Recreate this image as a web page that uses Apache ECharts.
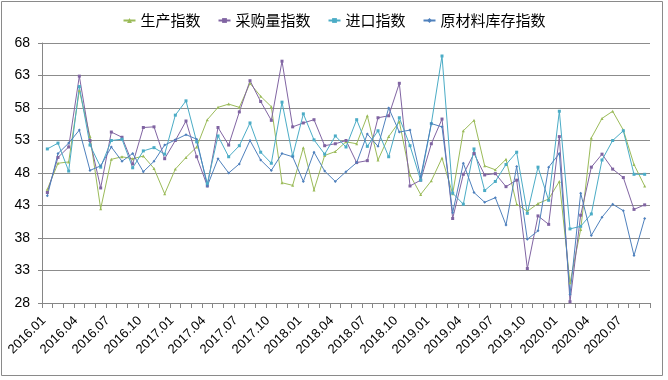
<!DOCTYPE html>
<html>
<head>
<meta charset="utf-8">
<script src="https://cdn.jsdelivr.net/npm/echarts@6/dist/echarts.min.js"></script>
<style>
html,body{margin:0;padding:0;background:#fff;}
#c{width:668px;height:380px;}
</style>
</head>
<body>
<div id="c"></div>
<script>
const categories = [
  "2016.01","2016.02","2016.03","2016.04","2016.05","2016.06","2016.07","2016.08","2016.09","2016.10","2016.11","2016.12",
  "2017.01","2017.02","2017.03","2017.04","2017.05","2017.06","2017.07","2017.08","2017.09","2017.10","2017.11","2017.12",
  "2018.01","2018.02","2018.03","2018.04","2018.05","2018.06","2018.07","2018.08","2018.09","2018.10","2018.11","2018.12",
  "2019.01","2019.02","2019.03","2019.04","2019.05","2019.06","2019.07","2019.08","2019.09","2019.10","2019.11","2019.12",
  "2020.01","2020.02","2020.03","2020.04","2020.05","2020.06","2020.07","2020.08","2020.09"
];
const seriesNames = ["生产指数","采购量指数","进口指数","原材料库存指数"];
const production = [45.5,49.5,49.7,60.7,53.6,42.5,50.1,50.5,50.2,50.6,48.7,44.8,
  48.6,50.4,52.0,56.2,58.1,58.6,58.1,61.8,59.8,58.2,46.5,46.1,
  51.9,45.4,50.7,51.3,52.8,52.5,56.8,50.0,53.6,55.9,47.7,44.7,
  46.8,50.3,44.8,54.5,56.1,49.1,48.5,50.1,43.2,42.1,43.3,44.0,
  46.7,31.1,39.3,53.4,56.4,57.5,54.6,49.3,46.0];
const purchase = [45.0,50.4,52.0,62.9,53.0,45.7,54.3,53.5,49.4,55.0,55.1,50.2,
  53.0,56.0,50.5,46.0,55.0,52.3,57.4,62.2,59.0,56.1,65.2,55.1,
  55.7,56.2,52.2,52.5,53.0,49.6,49.9,56.5,56.8,61.8,46.0,46.9,
  52.5,56.3,41.0,47.8,51.0,47.7,47.9,45.9,46.9,33.3,41.4,40.1,
  53.6,28.2,41.5,48.9,50.9,48.6,47.3,42.4,43.1];
const imports = [51.7,52.6,48.3,61.3,52.3,48.9,53.0,53.2,48.8,51.4,51.9,50.9,
  56.9,59.1,52.8,46.4,53.7,50.5,52.2,55.7,51.2,49.5,58.9,50.6,
  57.1,53.1,50.9,53.7,52.0,56.2,52.1,54.5,50.5,56.5,52.2,46.9,
  55.6,66.0,44.9,43.2,51.7,45.3,46.7,49.3,51.2,41.8,48.9,43.8,
  57.5,39.4,39.8,41.7,50.0,53.0,54.5,47.8,47.8];
const inventory = [44.5,51.0,52.6,54.6,48.4,49.1,52.0,49.8,51.0,48.2,49.8,52.3,
  53.1,53.9,53.2,46.0,50.2,48.0,49.4,53.0,50.0,48.4,51.0,50.5,
  46.7,51.2,48.3,46.7,48.2,49.6,54.0,52.1,58.0,54.3,54.6,47.4,
  55.6,55.1,41.9,49.5,45.0,43.5,44.2,40.0,49.0,37.8,39.1,48.9,
  51.0,29.3,44.9,38.4,41.2,43.2,42.2,35.3,41.0];
const yTicks = [28,33,38,43,48,53,58,63,68];

const colors = ["#9BBB59","#8064A2","#4BACC6","#4F81BD"];
const symbols = ["triangle","rect","rect","diamond"];
const dataSets = [production, purchase, imports, inventory];

const chart = echarts.init(document.getElementById('c'), null, {renderer:'canvas'});
const font = "'Liberation Sans', Arial, sans-serif";
chart.setOption({
  animation: false,
  backgroundColor: '#fff',
  graphic: [{
    type: 'rect', shape: {x: 1.5, y: 1.5, width: 661, height: 374},
    style: {fill: 'none', stroke: '#8a8a8a', lineWidth: 1}, silent: true, z: -1
  }],
  legend: {
    top: 8, left: 'center',
    itemWidth: 12, itemHeight: 6, itemGap: 17,
    textStyle: {fontFamily: "'Noto Sans CJK SC', sans-serif", fontSize: 15, color: '#000'},
    data: seriesNames
  },
  grid: {left: 42, right: 18, top: 43, bottom: 77, containLabel: false},
  xAxis: {
    type: 'category', data: categories, boundaryGap: true,
    axisLine: {lineStyle: {color: '#868686', width: 1}},
    axisTick: {show: true, interval: 0, length: 5, lineStyle: {color: '#868686'}},
    axisLabel: {interval: 2, rotate: 45, margin: 12, padding: [0, 5, 0, 0], fontSize: 13, color: '#000', fontFamily: font},
    splitLine: {show: false}
  },
  yAxis: {
    type: 'value', min: yTicks[0], max: yTicks[yTicks.length-1], interval: 5,
    axisLine: {show: true, lineStyle: {color: '#868686', width: 1}},
    axisTick: {show: true, length: 4, lineStyle: {color: '#868686'}},
    axisLabel: {margin: 12, fontSize: 14, color: '#000', fontFamily: font},
    splitLine: {show: true, lineStyle: {color: '#8c8c8c', width: 1}}
  },
  series: seriesNames.map((n, k) => ({
    name: n, type: 'line', data: dataSets[k],
    symbol: symbols[k], symbolSize: 3, showSymbol: true,
    lineStyle: {color: colors[k], width: 1},
    itemStyle: {color: colors[k]},
    emphasis: {disabled: true}
  }))
});
</script>
</body>
</html>
